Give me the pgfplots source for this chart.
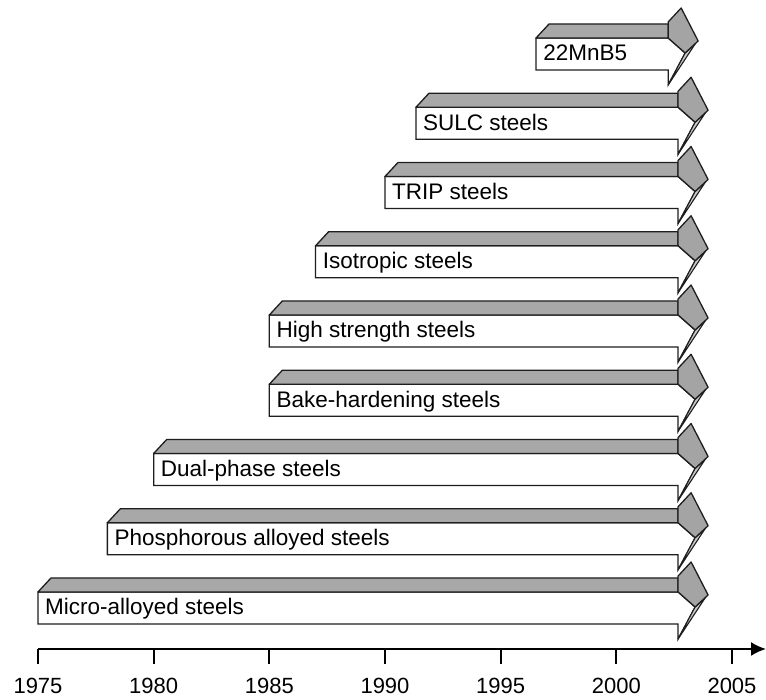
\documentclass[border=0pt]{standalone}
\usepackage{fontspec}
\setmainfont{Liberation Sans}
\usepackage{pgfplots}
\pgfplotsset{compat=1.18}
\usetikzlibrary{arrows.meta}
\definecolor{topgray}{HTML}{A8A8A8}
\definecolor{headgray}{HTML}{A4A4A4}
\definecolor{stripgray}{HTML}{C8C8C8}
\definecolor{edge}{HTML}{1E1E1E}
% #1 = start year, #2 = end year, #3 = bottom of the front face (px above the time axis), #4 = label
\newcommand{\steelarrow}[4]{%
 \draw[edge, line width=1.3pt, fill=white, line join=miter]
   (axis cs:#1,#3) -- ([yshift=32pt]axis cs:#1,#3) -- ([yshift=32pt]axis cs:#2,#3)
   -- ([xshift=17pt,yshift=17pt]axis cs:#2,#3) -- ([yshift=-15pt]axis cs:#2,#3) -- (axis cs:#2,#3) -- cycle;
 \draw[edge, line width=1.3pt, fill=topgray, line join=round]
   ([yshift=32pt]axis cs:#1,#3) -- ([xshift=13pt,yshift=46pt]axis cs:#1,#3) -- ([yshift=46pt]axis cs:#2,#3) -- ([yshift=32pt]axis cs:#2,#3) -- cycle;
 \draw[edge, line width=1.1pt, fill=stripgray, line join=round]
   ([xshift=17pt,yshift=17pt]axis cs:#2,#3) -- ([xshift=27pt,yshift=26pt]axis cs:#2,#3) -- ([yshift=-15pt]axis cs:#2,#3) -- cycle;
 \draw[edge, line width=1.3pt, fill=headgray, line join=round]
   ([yshift=48pt]axis cs:#2,#3) -- ([xshift=13pt,yshift=62pt]axis cs:#2,#3) -- ([xshift=30pt,yshift=29pt]axis cs:#2,#3) -- ([xshift=17pt,yshift=17pt]axis cs:#2,#3) -- ([yshift=32pt]axis cs:#2,#3) -- cycle;
 \node[anchor=base west, inner sep=0pt, font=\fontsize{22.5}{26}\selectfont, text=black] at ([xshift=7pt,yshift=9pt]axis cs:#1,#3) {#4};
}
\begin{document}
\begin{tikzpicture}
\begin{axis}[
  scale only axis, width=728pt, height=649pt,
  xmin=1975, xmax=2006.47, ymin=0, ymax=649,
  axis x line=bottom, axis y line=none,
  x axis line style={line width=2pt, -{Latex[length=15pt,width=14pt]}},
  xtick={1975,1980,1985,1990,1995,2000,2005},
  xticklabels={1975,1980,1985,1990,1995,2000,2005},
  xtick align=outside, xtick pos=bottom, major tick length=15pt,
  major x tick style={line width=2pt, draw=black},
  xticklabel style={font=\fontsize{22}{26}\selectfont, anchor=north, yshift=-14pt, inner sep=0pt},
  /pgf/number format/assume math mode=true,
  clip=false,
]
\coordinate (O) at (axis cs:1975,0);
\steelarrow{1996.53}{2002.24}{579}{22MnB5}
\steelarrow{1991.34}{2002.67}{509.75}{SULC steels}
\steelarrow{1990}{2002.67}{440.5}{TRIP steels}
\steelarrow{1987}{2002.67}{371.25}{Isotropic steels}
\steelarrow{1985}{2002.67}{302}{High strength steels}
\steelarrow{1985}{2002.67}{232.75}{Bake-hardening steels}
\steelarrow{1980}{2002.67}{163.5}{Dual-phase steels}
\steelarrow{1978}{2002.67}{94.25}{Phosphorous alloyed steels}
\steelarrow{1975}{2002.67}{25}{Micro-alloyed steels}
\end{axis}
\pgfresetboundingbox
\path ([shift={(-38pt,-51pt)}]O) rectangle ++(766pt,700pt);
\end{tikzpicture}
\end{document}
